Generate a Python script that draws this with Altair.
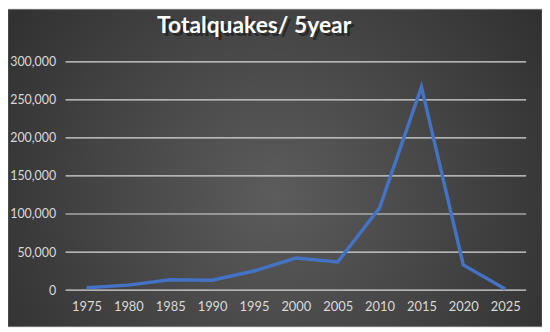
import altair as alt
import pandas as pd

years = ["1975", "1980", "1985", "1990", "1995", "2000", "2005", "2010", "2015", "2020", "2025"]
quakes = [3000, 6500, 13500, 13000, 25000, 42000, 37000, 108000, 267000, 33000, 1500]
title_text = ["Totalquakes/ 5year"]
y_ticks = [0, 50000, 100000, 150000, 200000, 250000, 300000]

df = pd.DataFrame({"year": years, "quakes": quakes})
tdf = pd.DataFrame({"t": title_text})
gdf = pd.DataFrame({"quakes": y_ticks})
bg = pd.DataFrame({"a": [0]})

W, H = 464, 230
PL, PT, PR, PB = 58, 53, 16, 37

grad = {
    "gradient": "radial",
    "x1": 0.5, "y1": 0.55, "r1": 0,
    "x2": 0.5, "y2": 0.55, "r2": 0.75,
    "stops": [
        {"offset": 0, "color": "#5c5c5c"},
        {"offset": 1, "color": "#262626"},
    ],
}

yscale = alt.Scale(domain=[0, 300000], nice=False)
yaxis = alt.Axis(title=None, values=y_ticks, format=",d", domain=False, ticks=False,
                 labelPadding=10, labelFontSize=12.5, labelColor="#d9d9d9",
                 labelFont="Lato", grid=False, zindex=1)

background = alt.Chart(bg).mark_rect(fill=grad, stroke="#8a8a8a", strokeWidth=0.5).encode(
    x=alt.value(-PL), x2=alt.value(W + PR),
    y=alt.value(-PT), y2=alt.value(H + PB),
)

grid = alt.Chart(gdf).mark_rule(color="#d9d9d9", strokeWidth=1.2).encode(
    y=alt.Y("quakes:Q", scale=yscale, axis=yaxis),
)

line = alt.Chart(df).mark_line(color="#4472C4", strokeWidth=3.5).encode(
    x=alt.X("year:O", sort=years, scale=alt.Scale(type="point", padding=0.5),
            axis=alt.Axis(title=None, labelAngle=0, domain=False, ticks=False,
                          labelPadding=11, labelFontSize=13, labelColor="#d9d9d9",
                          labelFont="Lato", grid=False, zindex=1)),
    y=alt.Y("quakes:Q", scale=yscale, axis=yaxis),
)

shadow = alt.Chart(tdf).mark_text(
    font="Lato", fontSize=23, fontWeight="bold", color="#111111", opacity=0.55,
    align="center", baseline="middle",
).encode(x=alt.value(190 + 3), y=alt.value(-36 + 3), text="t:N")

title = alt.Chart(tdf).mark_text(
    font="Lato", fontSize=23, fontWeight="bold", color="#ffffff",
    align="center", baseline="middle",
).encode(x=alt.value(190), y=alt.value(-36), text="t:N")

chart = alt.layer(background, grid, line, shadow, title).properties(
    width=W, height=H,
    autosize=alt.AutoSizeParams(type="none"),
    padding={"left": PL, "top": PT, "right": PR, "bottom": PB},
    background="#ffffff",
).configure_view(stroke=None)

chart.save("out.html", embed_options={"renderer": "svg", "actions": False})
